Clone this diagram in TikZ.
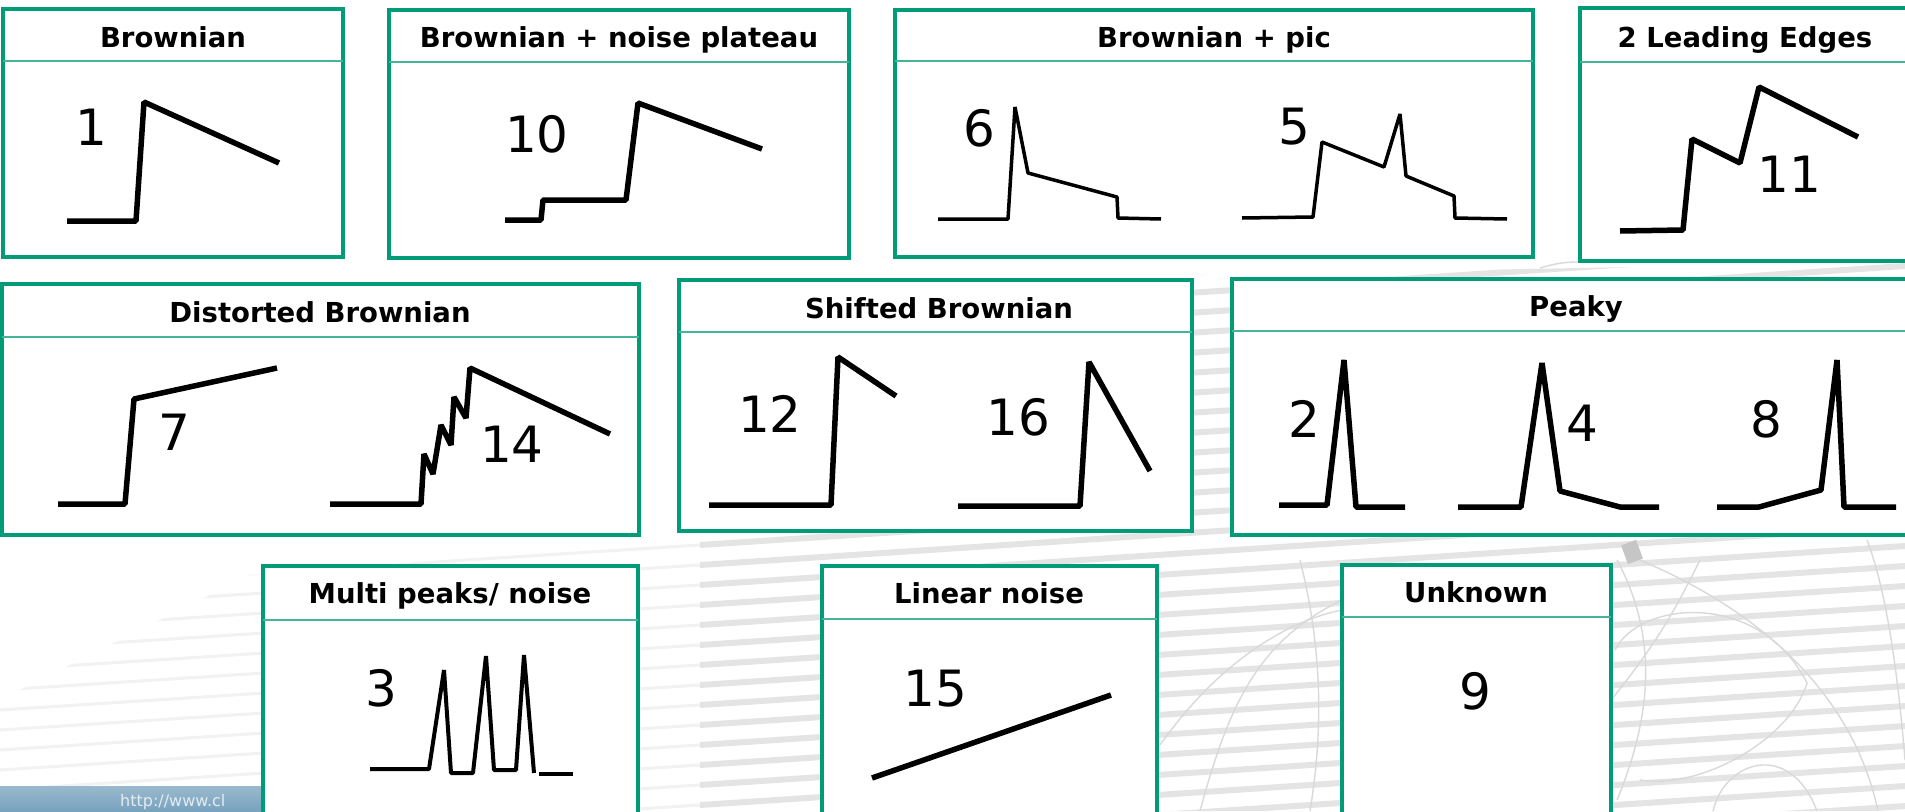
\documentclass[tikz,border=0pt]{standalone}
\usepackage{fontspec}
\setmainfont{DejaVu Sans}
\definecolor{boxgreen}{RGB}{0,155,119}
\definecolor{hdrgreen}{RGB}{70,180,150}
\definecolor{stripe}{RGB}{228,228,228}
\definecolor{stripelight}{RGB}{242,242,242}
\definecolor{barblue}{RGB}{120,162,190}
\tikzset{
  panel/.style={draw=boxgreen, line width=4pt, fill=white},
  hdr/.style={draw=hdrgreen, line width=2pt},
  ttl/.style={font=\fontsize{27.5}{30}\selectfont\bfseries, anchor=base, inner sep=0pt},
  num/.style={font=\fontsize{50}{56}\selectfont, inner sep=0pt},
  wave/.style={draw=black, line width=5.5pt, line join=bevel},
  thinwave/.style={draw=black, line width=3.5pt, line join=bevel},
  bgstripe/.style={draw=stripe, line width=6pt},
  bgstripelight/.style={draw=stripelight, line width=3pt},
  arcline/.style={draw=gray!30, line width=1.4pt},
}
\begin{document}
\begin{tikzpicture}[x=1pt,y=-1pt]
\clip (0,0) rectangle (1905,811);
\fill[white] (0,0) rectangle (1905,811);
% ---------- background ----------
\begin{scope}
  \clip (0,700) -- (250,575) -- (700,540) -- (1200,275) -- (1905,262) -- (1905,811) -- (0,811) -- cycle;
  \foreach \k in {0,...,40} {
    \draw[bgstripelight] (0,{330+\k*20}) -- (700,{330+\k*20-45});
    \draw[bgstripe] (700,{330+\k*20-45}) -- (1905,{330+\k*20-124});
  }
\end{scope}
\begin{scope}
  \draw[arcline] (1630,556) .. controls (1740,600) and (1850,680) .. (1878,811);
  \draw[arcline] (1617,560) .. controls (1660,640) and (1650,720) .. (1617,800);
  \draw[arcline] (1615,650) .. controls (1640,600) and (1760,590) .. (1807,683)
                 .. controls (1790,740) and (1700,790) .. (1640,780);
  \draw[arcline] (1713,811) .. controls (1725,760) and (1790,740) .. (1817,811);
  \draw[arcline] (1867,540) .. controls (1890,600) and (1900,700) .. (1905,760);
  \draw[arcline] (1160,745) .. controls (1220,660) and (1290,620) .. (1342,610);
  \draw[arcline] (1300,560) .. controls (1320,640) and (1325,720) .. (1310,811);
  \draw[arcline] (1200,811) .. controls (1230,700) and (1260,640) .. (1342,600);
  \draw[arcline] (1611,700) .. controls (1660,640) and (1680,600) .. (1700,560);
  \draw[arcline] (1540,268) .. controls (1560,262) and (1570,262) .. (1580,262);
  \fill[gray!45, rotate around={20:(1632,552)}] (1624,542) rectangle (1640,562);
\end{scope}
% blue bar bottom-left
\shade[top color=barblue!75, bottom color=barblue] (0,786) rectangle (265,811);
\node[anchor=base west, inner sep=0pt, text=white!80!barblue, font=\fontsize{16}{18}\selectfont] (url) at (120,806) {http://www.cl};
% ---------- panels ----------
% Row 1
\draw[panel] (3,9) rectangle (343,257);   \draw[hdr] (3,61) -- (343,61);
\draw[panel] (389,10) rectangle (849,258); \draw[hdr] (389,62) -- (849,62);
\draw[panel] (895,10) rectangle (1533,257); \draw[hdr] (895,61) -- (1533,61);
\draw[panel] (1580,8) rectangle (1925,261); \draw[hdr] (1580,62) -- (1925,62);
% Row 2
\draw[panel] (2,284) rectangle (639,535);  \draw[hdr] (2,337) -- (639,337);
\draw[panel] (679,280) rectangle (1192,531); \draw[hdr] (679,332) -- (1192,332);
\draw[panel] (1232,279) rectangle (1925,535); \draw[hdr] (1232,331) -- (1925,331);
% Row 3
\draw[panel] (263,566) rectangle (638,830); \draw[hdr] (263,620) -- (638,620);
\draw[panel] (822,566) rectangle (1157,830); \draw[hdr] (822,619) -- (1157,619);
\draw[panel] (1342,565) rectangle (1611,830); \draw[hdr] (1342,617) -- (1611,617);
% ---------- titles ----------
\node[ttl] (tA) at (173,47) {Brownian};
\node[ttl] (tB) at (619,47) {Brownian + noise plateau};
\node[ttl] (tC) at (1214,47) {Brownian + pic};
\node[ttl] (tD) at (1745,47) {2 Leading Edges};
\node[ttl] (tE) at (320,322) {Distorted Brownian};
\node[ttl] (tF) at (939,318) {Shifted Brownian};
\node[ttl] (tG) at (1576,316) {Peaky};
\node[ttl] (tH) at (450,603) {Multi peaks/ noise};
\node[ttl] (tI) at (989,603) {Linear noise};
\node[ttl] (tJ) at (1476,602) {Unknown};
% ---------- numbers ----------
\node[num] (n1) at (91,127) {1};
\node[num] (n10) at (537,134) {10};
\node[num] (n6) at (979,128) {6};
\node[num] (n5) at (1294,127) {5};
\node[num] (n11) at (1789,174) {11};
\node[num] (n7) at (174,432) {7};
\node[num] (n14) at (512,444) {14};
\node[num] (n12) at (770,414) {12};
\node[num] (n16) at (1018,417) {16};
\node[num] (n2) at (1304,419) {2};
\node[num] (n4) at (1582,423) {4};
\node[num] (n8) at (1766,419) {8};
\node[num] (n3) at (381,688) {3};
\node[num] (n15) at (935,689) {15};
\node[num] (n9) at (1475,691) {9};
% ---------- waveforms ----------
\draw[wave] (67,221) -- (136,221) -- (144,102) -- (279,163);
\draw[wave] (505,220) -- (541,220) -- (543,200) -- (626,200) -- (638,103) -- (762,149);
\draw[thinwave] (938,219) -- (1008,219) -- (1015,107) -- (1028,173) -- (1117,197) -- (1118,218) -- (1161,219);
\draw[thinwave] (1242,218) -- (1313,217) -- (1322,142) -- (1384,167) -- (1400,114) -- (1406,176) -- (1454,196) -- (1455,218) -- (1507,219);
\draw[wave] (1620,231) -- (1683,230) -- (1692,139) -- (1740,163) -- (1759,87) -- (1858,137);
\draw[wave] (58,504) -- (125,504) -- (134,399) -- (277,368);
\draw[wave] (330,504) -- (421,504) -- (424,454) -- (433,474) -- (441,425) -- (451,445) -- (454,397) -- (466,418) -- (470,368) -- (610,434);
\draw[wave] (709,505) -- (831,505) -- (838,357) -- (896,396);
\draw[wave] (958,506) -- (1080,506) -- (1089,362) -- (1150,471);
\draw[wave] (1279,505) -- (1327,505) -- (1344,360) -- (1356,507) -- (1405,507);
\draw[wave] (1458,507) -- (1521,507) -- (1542,363) -- (1560,491) -- (1620,507) -- (1659,507);
\draw[wave] (1717,507) -- (1759,507) -- (1821,490) -- (1837,360) -- (1844,507) -- (1896,507);
\draw[thinwave, line width=4pt] (370,769) -- (429,769) -- (444,670) -- (451,773) -- (473,773) -- (486,656) -- (494,770) -- (516,770) -- (524,655) -- (534,773);
\draw[thinwave, line width=4pt] (539,774) -- (573,774);
\draw[wave] (872,778) -- (1111,695);
\end{tikzpicture}
\end{document}
